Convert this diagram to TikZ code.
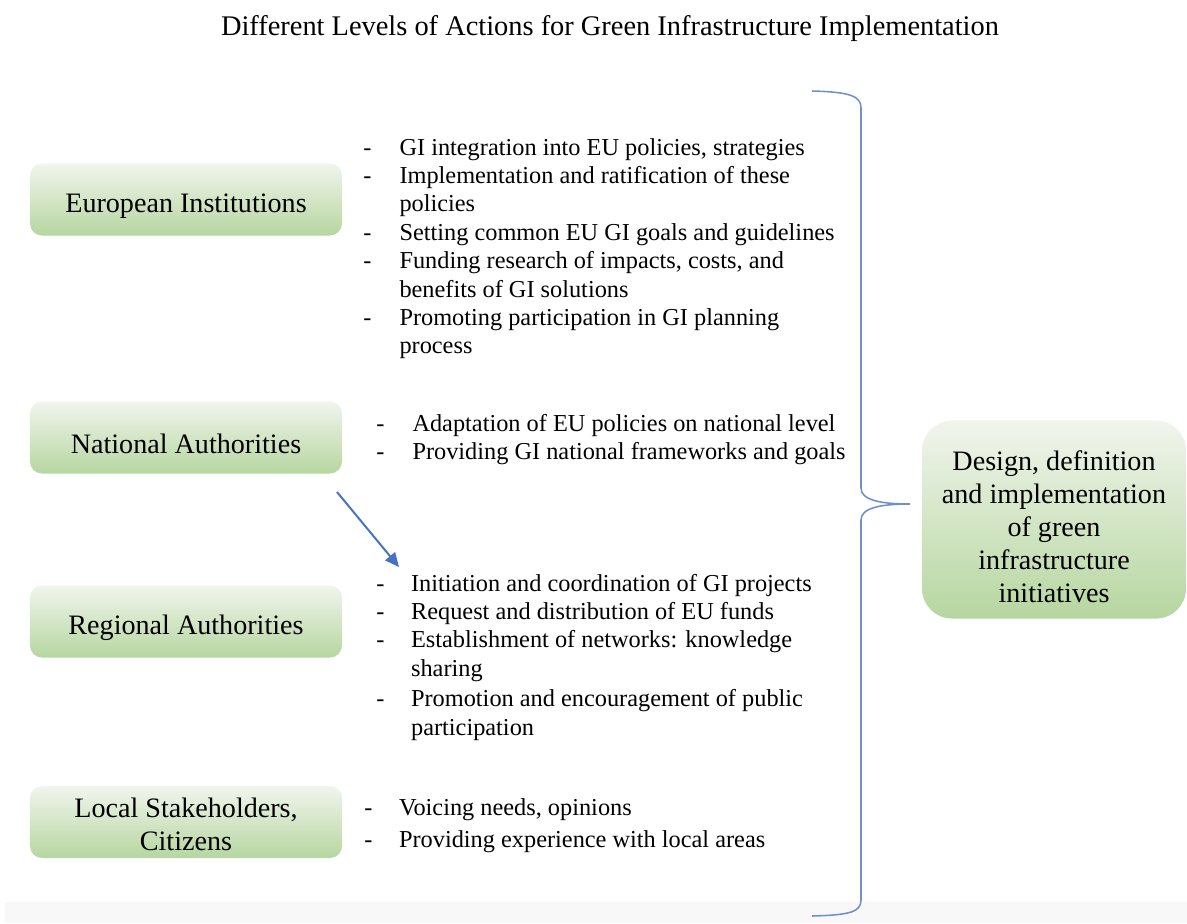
\documentclass[tikz,border=0pt]{standalone}
\usepackage{fontspec}
\setmainfont{Liberation Serif}
\usetikzlibrary{arrows.meta}

\definecolor{boxtop}{RGB}{241,245,237}
\definecolor{boxbot}{RGB}{182,214,160}
\definecolor{bracecol}{RGB}{110,145,205}
\definecolor{arrcol}{RGB}{68,114,196}
\definecolor{bandcol}{RGB}{248,248,248}

\begin{document}
\begin{tikzpicture}[
    x=0.025cm, y=-0.025cm,
    level/.style={rounded corners=0.3cm, minimum width=7.8cm, minimum height=1.8cm,
                  align=center, top color=boxtop, bottom color=boxbot,
                  font=\fontsize{20}{23.5}\selectfont},
    onerow/.style={level, text height=23pt},
    goal/.style={level, rounded corners=0.75cm, minimum width=6.6cm, minimum height=4.95cm},
    items/.style={anchor=base west, inner sep=0pt, align=left,
                  font=\fontsize{17.3}{20.2}\selectfont},
    arr/.style={-{Triangle[length=10pt, width=9pt]}, line width=1.4pt, draw=arrcol},
    brace/.style={draw=bracecol, line width=1.1pt},
]
    \useasboundingbox (0,0) rectangle (1187,923);
    \fill[bandcol] (5,902) rectangle (1187,923);

    \node[font=\fontsize{20.2}{24}\selectfont] (title) at (610,29)
        {Different Levels of Actions for Green Infrastructure Implementation};

    \node[onerow] (eu)  at (186,199.5) {European Institutions};
    \node[onerow] (nat) at (186,437.5) {National Authorities};
    \node[onerow] (reg) at (186,621.5) {Regional Authorities};
    \node[level] (loc) at (186,822)   {\rule{0pt}{17.5pt}Local Stakeholders,\\Citizens};
    \node[goal] (design) at (1054,519.5)
        {\rule{0pt}{24pt}Design, definition\\and implementation\\of green\\infrastructure\\initiatives};

    \node[items] (eulist) at (363,155) {\begin{tabular}[t]{@{}l@{\hspace{20pt}}l@{}}
        - & GI integration into EU policies, strategies\\
        - & Implementation and ratification of these\\
          & policies\\
        - & Setting common EU GI goals and guidelines\\
        - & Funding research of impacts, costs, and\\
          & benefits of GI solutions\\
        - & Promoting participation in GI planning\\
          & process
    \end{tabular}};
    \node[items] (natlist) at (376,431) {\begin{tabular}[t]{@{}l@{\hspace{20pt}}l@{}}
        - & Adaptation of EU policies on national level\\
        - & Providing GI national frameworks and goals
    \end{tabular}};
    \node[items] (reglist) at (376,591) {\begin{tabular}[t]{@{}l@{\hspace{19pt}}l@{}}
        - & Initiation and coordination of GI projects\\
        - & Request and distribution of EU funds\\
        - & Establishment of networks: knowledge\\
          & sharing\\[1.5pt]
        - & Promotion and encouragement of public\\
          & participation
    \end{tabular}};
    \node[items] (loclist) at (364,815) {\begin{tabular}[t]{@{}l@{\hspace{19pt}}l@{}}
        - & Voicing needs, opinions\\[2.7pt]
        - & Providing experience with local areas
    \end{tabular}};

    \coordinate (a1) at (337,492);
    \coordinate (a2) at (399,567);
    \draw[arr] (a1) -- (a2);

    \coordinate (bt) at (812,91);
    \coordinate (tip) at (910,504);
    \coordinate (bb) at (812,916);
    \draw[brace] (bt) .. controls (850,92) and (861,96) .. (861,108) -- (861,488)
        .. controls (861,500) and (880,504) .. (tip)
        .. controls (880,504) and (861,508) .. (861,520) -- (861,900)
        .. controls (861,912) and (850,915) .. (bb);
\end{tikzpicture}
\end{document}
